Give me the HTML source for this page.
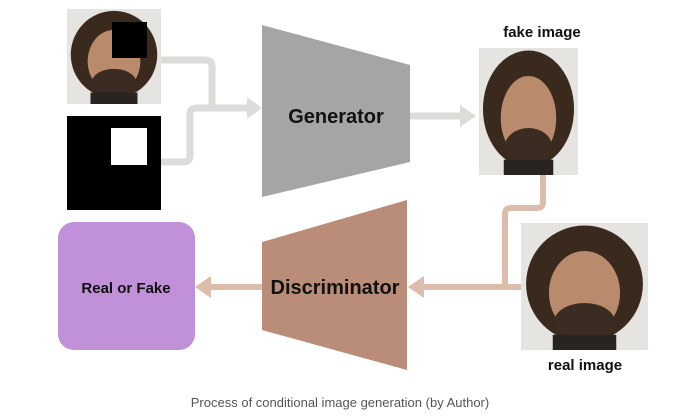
<!DOCTYPE html>
<html><head><style>
body{margin:0;background:#fff;width:680px;height:413px;overflow:hidden;font-family:"Liberation Sans",sans-serif}
</style></head><body>
<svg width="680" height="413" viewBox="0 0 680 413" xmlns="http://www.w3.org/2000/svg">
<defs>
<g id="face">
<rect x="0" y="0" width="100" height="100" fill="#e6e4e0"/>
<ellipse cx="50" cy="48" rx="46" ry="46" fill="#3a2a1e"/>
<ellipse cx="50" cy="55" rx="28" ry="33" fill="#b98a6c"/>
<ellipse cx="50" cy="78" rx="24" ry="15" fill="#3a2c22"/>
<rect x="25" y="88" width="50" height="12" fill="#2a2420"/>
</g>
</defs>
<svg x="67" y="9" width="94" height="95" viewBox="0 0 100 100" preserveAspectRatio="none"><use href="#face"/></svg>
<rect x="112" y="22" width="35" height="36" fill="#000"/>
<rect x="67" y="116" width="94" height="94" fill="#000"/>
<rect x="111" y="128" width="36" height="37" fill="#fff"/>
<g fill="none" stroke="#dcdcd8" stroke-width="7" stroke-linejoin="round">
<path d="M161 60 H205 Q212 60 212 67 V108 H250"/>
<path d="M161 162 H184 Q190 162 190 155 V114 Q190 108 197 108 H212"/>
<path d="M410 116 H462"/>
</g>
<polygon points="247,97 262,108 247,119" fill="#dcdcd8"/>
<polygon points="460,105 476,116 460,127" fill="#dcdcd8"/>
<polygon points="262,25 410,65 410,162 262,197" fill="#a5a5a5"/>
<text x="336" y="123" font-size="20" font-weight="bold" text-anchor="middle" fill="#111">Generator</text>
<text x="542" y="37" font-size="15" font-weight="bold" text-anchor="middle" fill="#111">fake image</text>
<svg x="479" y="48" width="99" height="127" viewBox="0 0 100 100" preserveAspectRatio="none"><use href="#face"/></svg>
<g fill="none" stroke="#dcbcaa" stroke-width="6" stroke-linejoin="round">
<path d="M543 175 V202 Q543 208 537 208 H511 Q505 208 505 214 V287"/>
<path d="M521 287 H420"/>
<path d="M262 287 H208"/>
</g>
<polygon points="424,276 408,287 424,298" fill="#dcbcaa"/>
<polygon points="211,276 195,287 211,298" fill="#dcbcaa"/>
<svg x="521" y="223" width="127" height="127" viewBox="0 0 100 100" preserveAspectRatio="none"><use href="#face"/></svg>
<text x="585" y="370" font-size="15" font-weight="bold" text-anchor="middle" fill="#111">real image</text>
<polygon points="262,242 407,200 407,370 262,330" fill="#b98d77"/>
<text x="335" y="294" font-size="20" font-weight="bold" text-anchor="middle" fill="#111">Discriminator</text>
<rect x="58" y="222" width="137" height="128" rx="16" fill="#c090d8"/>
<text x="126" y="293" font-size="15" font-weight="bold" text-anchor="middle" fill="#111">Real or Fake</text>
<text x="340" y="407" font-size="13" text-anchor="middle" fill="#555">Process of conditional image generation (by Author)</text>
</svg>
</body></html>
